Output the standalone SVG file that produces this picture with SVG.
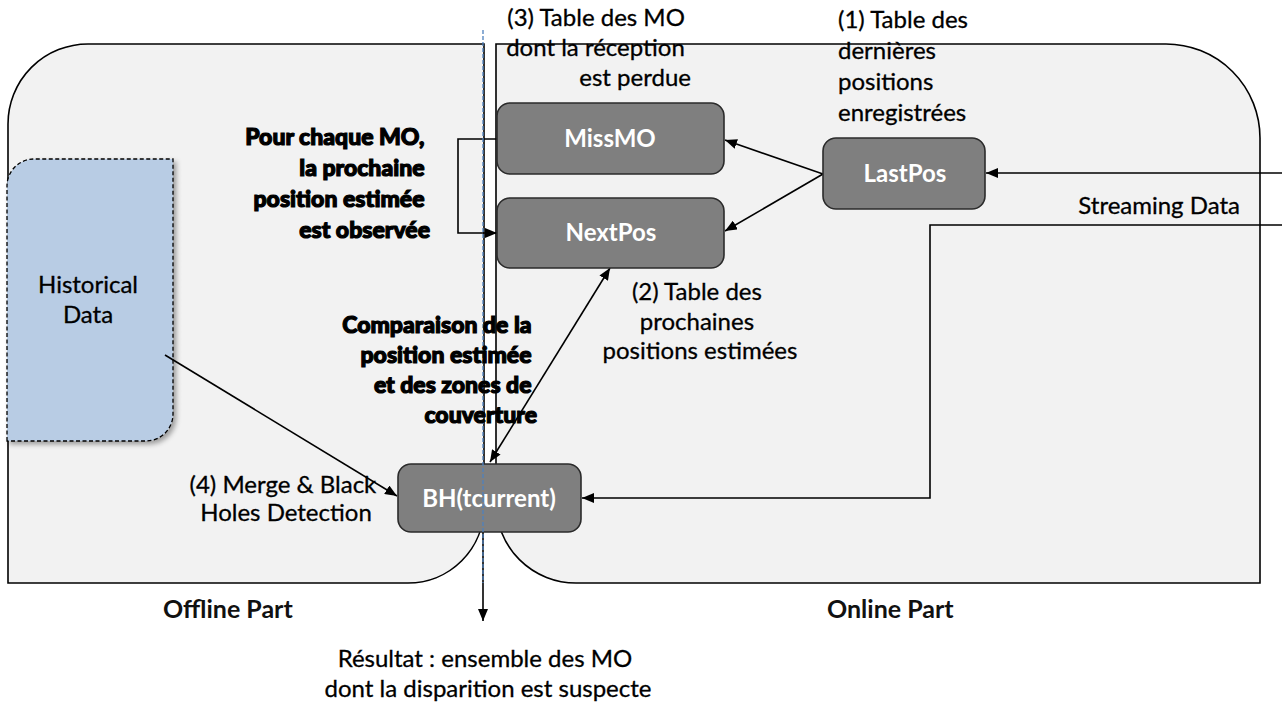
<svg xmlns="http://www.w3.org/2000/svg" width="1282" height="704" viewBox="0 0 1282 704">
  <style>
    .panel { fill: #f2f2f2; stroke: #000; stroke-width: 1.6; }
    .box { fill: #7f7f7f; stroke: #2b2b2b; stroke-width: 1.6; }
    .boxlabel { font-family: Lato, "Open Sans", sans-serif; font-weight: bold; font-size: 24px; fill: #fff; text-anchor: middle; }
    .note { font-family: Lato, "Open Sans", sans-serif; font-size: 24px; fill: #000; stroke: #000; stroke-width: 0.3; }
    .heavy { font-family: Lato, "Open Sans", sans-serif; font-weight: 900; font-size: 23px; fill: #000; stroke: #000; stroke-width: 1.2; text-anchor: end; }
    .part { font-family: Lato, "Open Sans", sans-serif; font-weight: bold; font-size: 25px; fill: #111; }
    .conn { fill: none; stroke: #000; stroke-width: 1.6; }
  </style>
  <defs>
    <marker id="arrow" viewBox="0 0 12 10" refX="12" refY="5" markerWidth="12" markerHeight="10" markerUnits="userSpaceOnUse" orient="auto-start-reverse">
      <path d="M0,0 L12,5 L0,10 Z" fill="#000"/>
    </marker>
    <filter id="shadow" x="-10%" y="-10%" width="130%" height="130%">
      <feDropShadow dx="3" dy="3" stdDeviation="2.5" flood-color="#000" flood-opacity="0.35"/>
    </filter>
  </defs>

  <rect width="1282" height="704" fill="#fff"/>

  <!-- offline and online areas -->
  <g id="offline-part">
    <path class="panel" d="M8,583 L8,124 A80,80 0 0 1 88,44 L484,44 L484,507 A76,76 0 0 1 408,583 Z"/>
    <text class="part" x="163" y="618">Offline Part</text>
  </g>
  <g id="online-part">
    <path class="panel" d="M496,44 L1166,44 A94,94 0 0 1 1260,138 L1260,583 L576,583 A80,80 0 0 1 496,503 Z"/>
    <text class="part" x="827" y="618">Online Part</text>
  </g>

  <!-- historical store -->
  <g id="historical-data">
    <path d="M7,441 L7,186 A27,27 0 0 1 34,159 L173,159 L173,414 A27,27 0 0 1 146,441 Z" fill="#b8cce4" stroke="#000" stroke-width="1.3" stroke-dasharray="4 2.5" filter="url(#shadow)"/>
    <text class="note" x="88" y="293" text-anchor="middle">Historical</text>
    <text class="note" x="88" y="323" text-anchor="middle">Data</text>
  </g>

  <!-- connectors -->
  <g id="connectors">
    <line class="conn" x1="1282" y1="173" x2="986" y2="173" marker-end="url(#arrow)"/>
    <polyline class="conn" points="1282,225 930,225 930,498 582,498" marker-end="url(#arrow)"/>
    <line class="conn" x1="823" y1="174" x2="725" y2="140" marker-end="url(#arrow)"/>
    <line class="conn" x1="823" y1="174" x2="725" y2="231" marker-end="url(#arrow)"/>
    <polyline class="conn" points="497,139 458,139 458,233 497,233" marker-end="url(#arrow)"/>
    <line class="conn" x1="165" y1="355" x2="397" y2="496" marker-end="url(#arrow)"/>
    <line class="conn" x1="490" y1="462" x2="610" y2="268" marker-start="url(#arrow)" marker-end="url(#arrow)"/>
    <line class="conn" x1="483" y1="532" x2="483" y2="621" marker-end="url(#arrow)"/>
  </g>

  <!-- processing tables -->
  <g id="missmo">
    <rect class="box" x="497" y="103" width="227" height="71" rx="13"/>
    <text class="boxlabel" x="610" y="147">MissMO</text>
  </g>
  <g id="nextpos">
    <rect class="box" x="497" y="198" width="227" height="70" rx="13"/>
    <text class="boxlabel" x="611" y="241">NextPos</text>
  </g>
  <g id="lastpos">
    <rect class="box" x="823" y="138" width="162" height="71" rx="13"/>
    <text class="boxlabel" x="905" y="182">LastPos</text>
  </g>
  <g id="bh">
    <rect class="box" x="398" y="464" width="183" height="68" rx="13"/>
    <text class="boxlabel" x="489" y="507">BH(tcurrent)</text>
  </g>

  <!-- separation between offline and online processing -->
  <line x1="483" y1="30" x2="483" y2="583" stroke="#4f81bd" stroke-width="1.3" stroke-dasharray="4 2"/>

  <!-- annotations -->
  <g id="labels">
    <text class="note" text-anchor="end">
      <tspan x="691" y="26">(3) Table des MO</tspan>
      <tspan x="691" y="56">dont la réception</tspan>
      <tspan x="691" y="86">est perdue</tspan>
    </text>
    <text class="note">
      <tspan x="838" y="28">(1) Table des</tspan>
      <tspan x="838" y="59">dernières</tspan>
      <tspan x="838" y="90">positions</tspan>
      <tspan x="838" y="121">enregistrées</tspan>
    </text>
    <text class="note" x="1240" y="214" text-anchor="end">Streaming Data</text>
    <text class="note" text-anchor="middle">
      <tspan x="700" y="300">(2) Table des</tspan>
      <tspan x="700" y="330">prochaines</tspan>
      <tspan x="700" y="359">positions estimées</tspan>
    </text>
    <text class="note" text-anchor="middle">
      <tspan x="286" y="493">(4) Merge &amp; Black</tspan>
      <tspan x="286" y="521">Holes Detection</tspan>
    </text>
    <text class="note" text-anchor="middle">
      <tspan x="488" y="667">Résultat : ensemble des MO</tspan>
      <tspan x="488" y="697">dont la disparition est suspecte</tspan>
    </text>
    <text class="heavy">
      <tspan x="430" y="145">Pour chaque MO,</tspan>
      <tspan x="430" y="176">la prochaine</tspan>
      <tspan x="430" y="207">position estimée</tspan>
      <tspan x="430" y="238">est observée</tspan>
    </text>
    <text class="heavy">
      <tspan x="537" y="333">Comparaison de la</tspan>
      <tspan x="537" y="363">position estimée</tspan>
      <tspan x="537" y="393">et des zones de</tspan>
      <tspan x="537" y="423">couverture</tspan>
    </text>
  </g>
</svg>
